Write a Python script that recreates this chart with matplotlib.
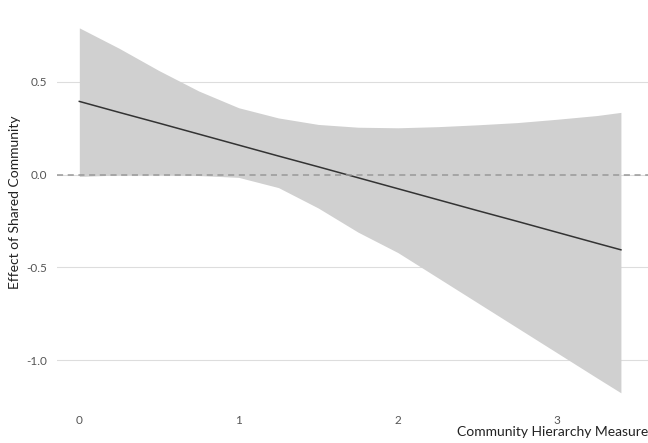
import numpy as np
import matplotlib.pyplot as plt

plt.rcParams['font.family'] = ['Lato', 'DejaVu Sans']

# 共同体层级 -> 共享社区效应
x = [0.0, 0.25, 0.5, 0.75, 1.0, 1.25, 1.5, 1.75, 2.0, 2.25, 2.5, 2.75, 3.0, 3.25, 3.4]
fit = [0.394, 0.335, 0.277, 0.218, 0.159, 0.100, 0.042, -0.017, -0.076, -0.135, -0.194, -0.252, -0.311, -0.370, -0.405]
upper = [0.79, 0.68, 0.56, 0.45, 0.36, 0.305, 0.27, 0.255, 0.252, 0.258, 0.268, 0.28, 0.298, 0.318, 0.335]
lower = [-0.01, -0.002, 0.0, -0.005, -0.015, -0.07, -0.18, -0.31, -0.42, -0.555, -0.69, -0.825, -0.96, -1.095, -1.175]

yticks = [-1.0, -0.5, 0.0, 0.5]
xticks = [0, 1, 2, 3]

fig = plt.figure(figsize=(6.48, 4.43), dpi=100)
ax = fig.add_axes([0.088, 0.086, 0.912, 0.914])

ax.fill_between(x, lower, upper, color='#d0d0d0', lw=0, zorder=2)
ax.plot(x, fit, color='#333333', lw=1.1, zorder=3)
ax.axhline(0, color='#999999', lw=1.1, ls=(0, (4, 3)), zorder=4)

ax.set_xlim(-0.14, 3.57)
ax.set_ylim(-1.24, 0.94)
ax.set_yticks(yticks)
ax.set_yticklabels(['-1.0', '-0.5', '0.0', '0.5'])
ax.set_xticks(xticks)
ax.grid(axis='y', color='#dddddd', lw=0.8, zorder=0)
for s in ax.spines.values():
    s.set_visible(False)
ax.tick_params(length=0, labelsize=8.5, labelcolor='#555555', pad=7)

ax.set_ylabel('Effect of Shared Community', fontsize=10, color='#222222', labelpad=4)
ax.set_xlabel('Community Hierarchy Measure', fontsize=10, color='#222222', loc='right', labelpad=0)

fig.savefig('out.png', dpi=100)
